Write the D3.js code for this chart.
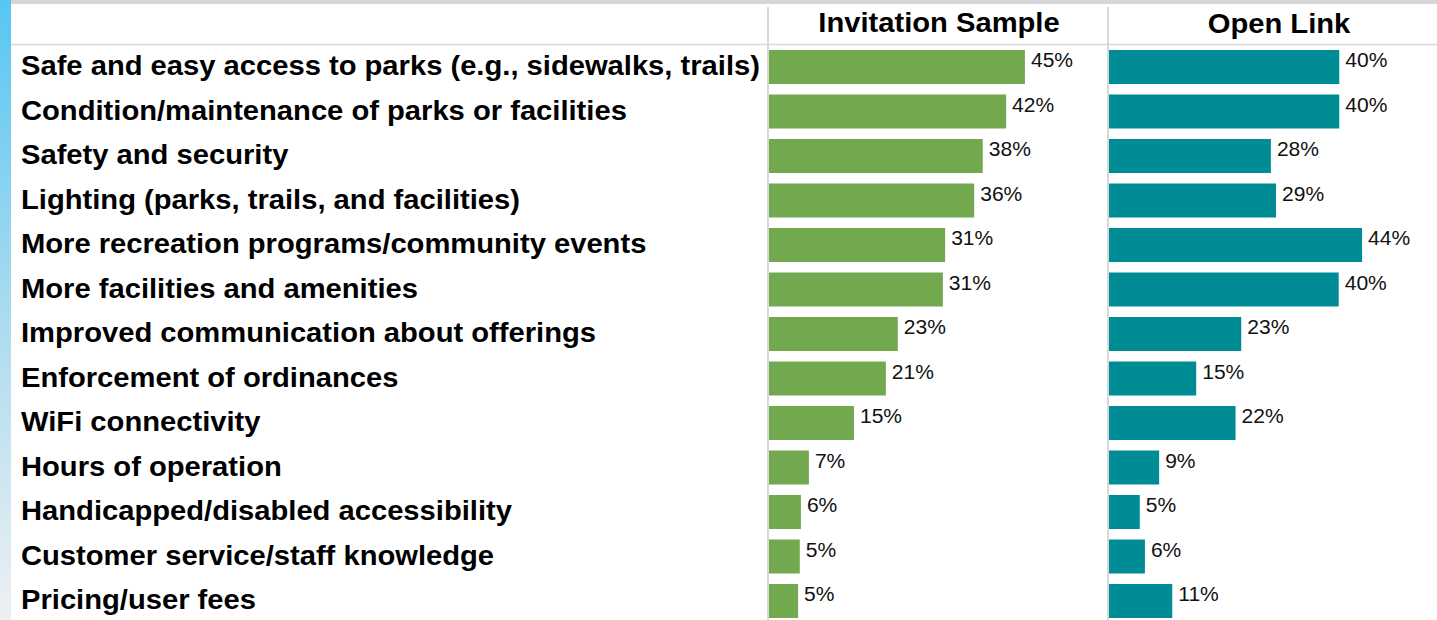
<!DOCTYPE html>
<html>
<head>
<meta charset="utf-8">
<script src="https://cdn.jsdelivr.net/npm/d3@7"></script>
<style>
  body { margin: 0; background: #fff; }
  svg text { font-family: Arial, "Liberation Sans", sans-serif; fill: #000; }
  .cat { font-size: 27px; font-weight: bold; }
  .head { font-size: 27px; font-weight: bold; }
  .val { font-size: 19.5px; fill: #111; }
</style>
</head>
<body>
<div id="chart"></div>
<script>
// data
var categories = [
  "Safe and easy access to parks (e.g., sidewalks, trails)",
  "Condition/maintenance of parks or facilities",
  "Safety and security",
  "Lighting (parks, trails, and facilities)",
  "More recreation programs/community events",
  "More facilities and amenities",
  "Improved communication about offerings",
  "Enforcement of ordinances",
  "WiFi connectivity",
  "Hours of operation",
  "Handicapped/disabled accessibility",
  "Customer service/staff knowledge",
  "Pricing/user fees"
];
var invitation = [44.9, 41.6, 37.5, 36.0, 30.9, 30.5, 22.6, 20.5, 14.9, 7.0, 5.6, 5.4, 5.1];
var openLink = [40.4, 40.4, 28.4, 29.3, 44.4, 40.3, 23.2, 15.3, 22.2, 8.8, 5.4, 6.3, 11.1];
var panels = ["Invitation Sample", "Open Link"];

var width = 1437, height = 620;
var stretch = 1.08; // text in the original is a bit wider than Arial

var svg = d3.select("#chart")
  .append("svg")
  .attr("width", width)
  .attr("height", height);

function place(x, y){
  return "translate(" + x + "," + y + ") scale(" + stretch + ",1)";
}

// left stripe gradient
var grad = svg.append("defs").append("linearGradient")
  .attr("id", "stripe")
  .attr("x1", 0).attr("y1", 0).attr("x2", 0).attr("y2", 1);
grad.append("stop").attr("offset", "0%").attr("stop-color", "#58c6f3");
grad.append("stop").attr("offset", "50%").attr("stop-color", "#a9dbef");
grad.append("stop").attr("offset", "100%").attr("stop-color", "#eef0f3");

svg.append("rect")
  .attr("x", 0).attr("y", 0)
  .attr("width", 11).attr("height", height)
  .attr("fill", "url(#stripe)");

// top gray band
svg.append("rect")
  .attr("x", 11).attr("y", 0)
  .attr("width", width - 11).attr("height", 4)
  .attr("fill", "#d6d6d6");

var y = d3.scaleBand()
  .domain(categories)
  .range([44.75, 623.25])
  .paddingInner(0.236)
  .paddingOuter(0.118);

var x = d3.scaleLinear().domain([0, 100]).range([0, 570]);

var panelX = [769, 1109];
var panelW = 340;

// grid lines
svg.append("line")
  .attr("x1", 11).attr("x2", width)
  .attr("y1", 44.5).attr("y2", 44.5)
  .attr("stroke", "#d9d9d9").attr("stroke-width", 1.5);

panelX.forEach(function(px){
  svg.append("line")
    .attr("x1", px - 1).attr("x2", px - 1)
    .attr("y1", 7).attr("y2", height)
    .attr("stroke", "#d9d9d9").attr("stroke-width", 2);
});

// category labels
svg.append("g")
  .selectAll("text")
  .data(categories)
  .enter().append("text")
  .attr("class", "cat")
  .attr("transform", function(d){ return place(21, y(d) + y.bandwidth()/2 + 8); })
  .text(function(d){ return d; });

// panels
var series = [
  {name: panels[0], values: invitation, color: "#72a94f"},
  {name: panels[1], values: openLink, color: "#008c95"}
];

series.forEach(function(s, i){
  var g = svg.append("g")
    .attr("transform", "translate(" + panelX[i] + ",0)");

  g.append("text")
    .attr("class", "head")
    .attr("transform", place(panelW/2, 32 + i))
    .attr("text-anchor", "middle")
    .text(s.name);

  g.selectAll("rect.bar")
    .data(s.values)
    .enter().append("rect")
    .attr("class", "bar")
    .attr("x", 0)
    .attr("y", function(d, j){ return y(categories[j]); })
    .attr("width", function(d){ return x(d); })
    .attr("height", y.bandwidth())
    .attr("fill", s.color);

  g.selectAll("text.val")
    .data(s.values)
    .enter().append("text")
    .attr("class", "val")
    .attr("transform", function(d, j){ return place(x(d) + 6, y(categories[j]) + y.bandwidth()/2); })
    .text(function(d){ return Math.round(d) + "%"; });
});
</script>
</body>
</html>
